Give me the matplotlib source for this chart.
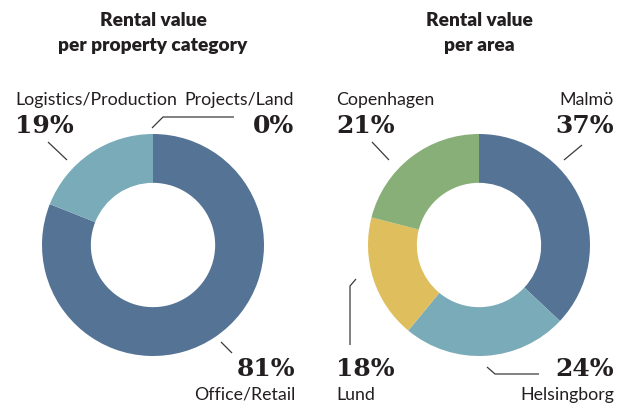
import matplotlib.pyplot as plt

# Rental value per property category
cat_labels = ["Office/Retail", "Logistics/Production", "Projects/Land"]
cat_values = [81, 19, 0]

# Rental value per area
area_labels = ["Malmö", "Helsingborg", "Lund", "Copenhagen"]
area_values = [37, 24, 18, 21]

BLUE = "#557395"; TEAL = "#7aabb8"; YELLOW = "#dfbe5e"; GREEN = "#87af77"
INK = "#231f20"; LINE = "#3a3a3a"

W, H = 624, 405
fig = plt.figure(figsize=(W / 100, H / 100), dpi=100, facecolor="white")
ax = fig.add_axes([0, 0, 1, 1])

R = 111
HOLE = 0.44


def Y(y):
    # pixel row (from top) -> data y
    return H - y


def donut(cx, cy, values, colors):
    ax.pie(values, colors=colors, startangle=90, counterclock=False,
           center=(cx, Y(cy)), radius=R,
           wedgeprops=dict(width=R * HOLE, linewidth=0))


def leader(pts):
    xs = [p[0] for p in pts]
    ys = [Y(p[1]) for p in pts]
    ax.plot(xs, ys, color=LINE, lw=0.9, solid_capstyle="butt")


def callout(x, y_pct, y_lbl, pct, name, ha):
    ax.text(x, Y(y_pct), f"{pct}%", ha=ha, va="center", fontsize=18,
            fontweight="bold", family="DejaVu Serif", color=INK)
    ax.text(x, Y(y_lbl), name, ha=ha, va="center", fontsize=12.8,
            family="Lato", color=INK)


donut(153, 245, cat_values, [BLUE, TEAL, "#cccccc"])
donut(479, 245, area_values, [BLUE, TEAL, YELLOW, GREEN])

title_kw = dict(ha="center", va="center", fontsize=13.8, fontweight="heavy",
                family="Lato", color=INK)
ax.text(153, Y(20), "Rental value", **title_kw)
ax.text(153, Y(45), "per property category", **title_kw)
ax.text(479, Y(20), "Rental value", **title_kw)
ax.text(479, Y(45), "per area", **title_kw)

# left donut callouts
callout(15, 126, 100, cat_values[1], cat_labels[1], "left")
callout(294, 126, 100, cat_values[2], cat_labels[2], "right")
callout(295, 369, 395, cat_values[0], cat_labels[0], "right")
leader([(48, 142), (67, 160)])
leader([(152, 128), (163, 117), (234, 117)])
leader([(221, 342), (232, 353)])

# right donut callouts
callout(336, 126, 100, area_values[3], area_labels[3], "left")
callout(614, 126, 100, area_values[0], area_labels[0], "right")
callout(336, 369, 395, area_values[2], area_labels[2], "left")
callout(614, 369, 395, area_values[1], area_labels[1], "right")
leader([(372, 142), (389, 160)])
leader([(582, 145), (564, 160)])
leader([(356, 279), (350, 286), (350, 345)])
leader([(487, 367), (495, 374), (539, 374)])

ax.set_xlim(0, W)
ax.set_ylim(0, H)
ax.set_aspect("equal")
ax.axis("off")

fig.savefig("out.png", dpi=100, facecolor="white")
